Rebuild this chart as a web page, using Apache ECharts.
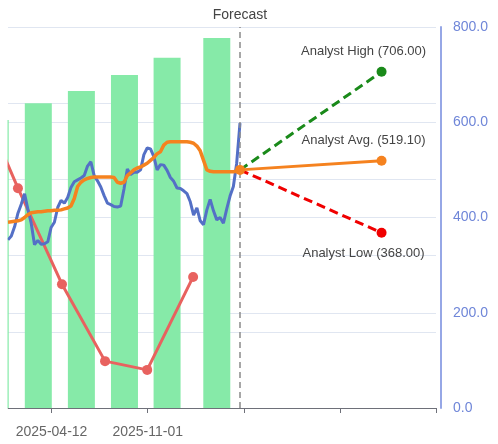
<!DOCTYPE html>
<html>
<head>
<meta charset="utf-8">
<script src="https://cdn.jsdelivr.net/npm/echarts@6/dist/echarts.min.js"></script>
<style>
  html, body { margin: 0; padding: 0; background: #fff; }
  #main { width: 498px; height: 444px; }
</style>
</head>
<body>
<div id="main"></div>
<script>
// weekly closes from 2025-01-10 up to the forecast date
var priceStart = [2025, 0, 10];
var price = [353, 361, 381, 409, 428, 450, 417, 388, 343, 352,
             344, 345, 349, 379, 390, 421, 436, 430, 442, 463,
             475, 479, 483, 488, 508, 517, 488, 477, 464, 446,
             430, 427, 423, 422, 424, 460, 502, 490, 495, 495,
             500, 532, 546, 544, 528, 500, 511, 510, 499, 484,
             476, 462, 461, 456, 450, 433, 405, 420, 393, 385,
             416, 438, 414, 395, 400, 388, 418, 445, 465, 514, 598];
var avgLine = [390, 391, 392, 393, 395, 400, 406, 410, 411, 412,
               412, 413, 414, 414, 415, 415, 416, 418, 420, 424,
               440, 465, 474, 479, 482, 484, 485, 485, 485, 485,
               485, 485, 484, 474, 472, 474, 488, 494, 500, 504,
               506, 510, 514, 520, 526, 534, 538, 552, 558, 559,
               559, 559, 559, 559, 559, 558, 556, 550, 540, 520,
               500, 497, 496, 496, 496, 496, 496, 496, 496, 497, 499];

// quarterly bars and the red quarterly line (hidden left axis)
var barDates = ['2024-12-14', '2025-03-15', '2025-06-14', '2025-09-13', '2025-12-12', '2026-03-27'];
var barValues = [75.6, 80.0, 83.2, 87.4, 91.9, 97.1];
var epsDates = ['2024-11-01', '2025-01-31', '2025-05-04', '2025-08-03', '2025-10-31', '2026-02-05'];
var epsValues = [84, 57.7, 32.5, 12.3, 10, 34.4];

// forecast
var forecastDate = '2026-05-15';
var targetDate = '2027-03-10';
var forecastStart = 500;
var targetHigh = 706.00;
var targetAvg = 519.10;
var targetLow = 368.00;

var xMin = '2025-01-10';
var xMax = '2027-07-03';
var tickDates = ['2025-04-12', '2025-11-01', '2026-05-23', '2026-12-12', '2027-07-03'];
var labelDates = ['2025-04-12', '2025-11-01'];

var FONT = 'Liberation Sans, Arial, sans-serif';

function ts(s) {
  var p = s.split('-');
  return new Date(+p[0], +p[1] - 1, +p[2]).getTime();
}
function weekly(values) {
  return values.map(function (v, i) {
    return [new Date(priceStart[0], priceStart[1], priceStart[2] + 7 * i).getTime(), v];
  });
}
function pairs(ds, vs) {
  return ds.map(function (d, i) { return [ts(d), vs[i]]; });
}
function target(v, name, pos, color) {
  return {
    type: 'line',
    yAxisIndex: 1,
    z: 5,
    symbol: 'circle',
    symbolSize: 10,
    data: [
      { value: [ts(forecastDate), forecastStart], symbol: 'none', label: { show: false } },
      { value: [ts(targetDate), v] }
    ],
    lineStyle: { color: color, width: 3, type: name === 'Analyst Avg.' ? 'solid' : [9, 5] },
    itemStyle: { color: color },
    label: {
      show: true,
      position: pos,
      distance: 9,
      offset: [-18, 0],
      fontFamily: FONT,
      fontSize: 13,
      color: '#444',
      formatter: name + ' (' + v.toFixed(2) + ')'
    }
  };
}

var chart = echarts.init(document.getElementById('main'));
var option = {
  animation: false,
  grid: { left: 8, right: 62, top: 27, bottom: 36 },
  // the bar clip area is widened by ECharts on value axes; mask the left margin
  graphic: [{
    type: 'rect', left: 0, top: 0, z: 100,
    shape: { width: 7.5, height: 444 },
    style: { fill: '#fff' }
  }],
  xAxis: {
    type: 'value',
    min: ts(xMin),
    max: ts(xMax),
    splitLine: { show: false },
    axisLine: { lineStyle: { color: '#6E7079' } },
    axisTick: { customValues: tickDates.map(ts), lineStyle: { color: '#6E7079' } },
    axisLabel: {
      customValues: labelDates.map(ts),
      margin: 17,
      fontFamily: FONT,
      fontSize: 14,
      color: '#666',
      formatter: function (v) { return echarts.time.format(v, '{yyyy}-{MM}-{dd}', false); }
    }
  },
  yAxis: [
    {
      type: 'value',
      min: 0, max: 100, interval: 20,
      axisLine: { show: false },
      axisTick: { show: false },
      axisLabel: { show: false },
      splitLine: { lineStyle: { color: '#E0E6F1' } }
    },
    {
      type: 'value',
      position: 'right',
      offset: 5,
      min: 0, max: 800, interval: 200,
      axisLine: { show: true, lineStyle: { color: '#96a7e6', width: 2 } },
      axisTick: { show: false },
      axisLabel: {
        margin: 12,
        fontFamily: FONT,
        fontSize: 14,
        color: '#6f86d8',
        formatter: function (v) { return v.toFixed(1); }
      },
      splitLine: { lineStyle: { color: '#E0E6F1' } }
    }
  ],
  series: [
    {
      type: 'bar',
      yAxisIndex: 0,
      barWidth: 27,
      clip: true,
      data: pairs(barDates, barValues),
      itemStyle: { color: '#86eaa8' }
    },
    {
      type: 'line',
      yAxisIndex: 0,
      symbol: 'circle',
      symbolSize: 10,
      showAllSymbol: true,
      clip: true,
      data: pairs(epsDates, epsValues),
      lineStyle: { color: '#e8625f', width: 3 },
      itemStyle: { color: '#e8625f' }
    },
    {
      type: 'line',
      yAxisIndex: 1,
      showSymbol: false,
      data: weekly(price),
      lineStyle: { color: '#5470c6', width: 3 },
      markLine: {
        silent: true,
        symbol: 'none',
        data: [{ xAxis: ts(forecastDate) }],
        lineStyle: { color: '#8a8a8a', type: [6, 4], width: 1.5 },
        label: {
          position: 'end',
          formatter: 'Forecast',
          fontFamily: FONT,
          fontSize: 14,
          color: '#444'
        }
      }
    },
    {
      type: 'line',
      yAxisIndex: 1,
      showSymbol: false,
      data: weekly(avgLine),
      lineStyle: { color: '#f5821f', width: 3.5 }
    },
    target(targetHigh, 'Analyst High', 'top', '#1a8a1a'),
    target(targetLow, 'Analyst Low', 'bottom', '#f00000'),
    (function () {
      var s = target(targetAvg, 'Analyst Avg.', 'top', '#f5821f');
      s.data[0].symbol = 'circle';
      s.z = 6;
      return s;
    })()
  ]
};
chart.setOption(option);
</script>
</body>
</html>
